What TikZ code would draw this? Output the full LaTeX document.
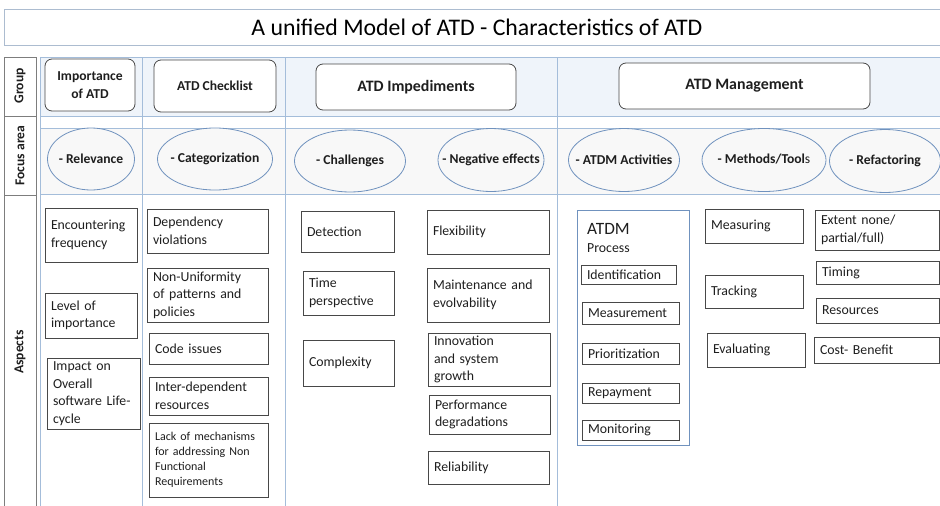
\documentclass[tikz,border=0pt]{standalone}
\usepackage{fontspec}
\setmainfont{Carlito}
\usetikzlibrary{shapes.geometric}
\definecolor{gridblue}{RGB}{164,189,218}
\definecolor{bandblue}{RGB}{239,244,250}
\definecolor{bandgray}{RGB}{248,248,248}
\definecolor{ellblue}{RGB}{112,146,190}
\definecolor{boxgray}{RGB}{72,72,72}
\definecolor{lblgray}{RGB}{125,125,125}
\definecolor{titlegray}{RGB}{172,188,208}
\definecolor{inkgray}{RGB}{30,30,30}

\begin{document}
\begin{tikzpicture}[x=1pt,y=-1pt,
		every node/.style={font=\fontsize{13.8}{17.6}\selectfont, text=inkgray},
		grp/.style={draw=boxgray, line width=.8pt, rounded corners=7pt, fill=white, align=center, font=\fontsize{13.6}{17.6}\selectfont\bfseries},
		focus/.style={ellipse, draw=ellblue, line width=.8pt, fill=bandgray, inner sep=0pt, font=\fontsize{13.6}{17.6}\selectfont\bfseries},
		asp/.style={draw=boxgray, line width=.8pt, align=left, inner xsep=6pt, inner ysep=1pt},
		lbl/.style={rotate=90, font=\fontsize{13.6}{17.6}\selectfont\bfseries}]
	\useasboundingbox (0,0) rectangle (940,506);
	\fill[bandblue] (40,57) rectangle (945,116);
	\fill[bandgray] (40,128) rectangle (945,194);
	\foreach \y in {57,116,128,194} \draw[gridblue, line width=.9pt] (40,\y) -- (945,\y);
	\foreach \x in {40,142,285,557} \draw[gridblue, line width=.9pt] (\x,57) -- (\x,512);
	\draw[lblgray, line width=.8pt] (4,57) rectangle (36,116);
	\draw[lblgray, line width=.8pt] (4,116) rectangle (36,195);
	\draw[lblgray, line width=.8pt] (4,195) rectangle (36,512);
	\node[lbl] (grouplbl) at (20,86) {Group};
	\node[lbl] (focuslbl) at (20,155.5) {Focus area};
	\node[lbl] (aspectlbl) at (20,352) {Aspects};
	\node[draw=titlegray, line width=.8pt, anchor=north west, minimum width=945pt, minimum height=36pt, font=\fontsize{23.8}{26}\selectfont, text=black] (title) at (4,9) {A unified Model of ATD - Characteristics of ATD};

	\node[grp, minimum width=90pt, minimum height=52pt] (importance) at (90,85) {Importance\\of ATD};
	\node[grp, minimum width=122pt, minimum height=52pt] (checklist) at (215,86) {ATD Checklist};
	\node[grp, minimum width=200pt, minimum height=46pt, font=\fontsize{15.9}{19}\selectfont\bfseries] (impediments) at (416,87) {ATD Impediments};
	\node[grp, minimum width=251pt, minimum height=46pt, font=\fontsize{15.9}{19}\selectfont\bfseries] (management) at (744.5,86) {ATD Management};

	\node[focus, minimum width=87pt, minimum height=62pt] (relevance) at (91,159) {\makebox[0pt]{- Relevance}};
	\node[focus, minimum width=115pt, minimum height=62pt] (categorization) at (215,159) {\makebox[0pt]{- Categorization}};
	\node[focus, minimum width=111pt, minimum height=62pt] (challenges) at (350,161) {\makebox[0pt]{- Challenges}};
	\node[focus, minimum width=106pt, minimum height=63pt] (negeffects) at (491,160) {\makebox[0pt]{\raisebox{3pt}{- Negative effects}}};
	\node[focus, minimum width=111pt, minimum height=63pt] (activities) at (624,160) {\makebox[0pt]{- ATDM Activities}};
	\node[focus, minimum width=124pt, minimum height=63pt] (methods) at (764,160) {\makebox[0pt]{\raisebox{2pt}{- Methods/Tool\mdseries s}}};
	\node[focus, minimum width=111pt, minimum height=63pt] (refactoring) at (885,161) {\makebox[0pt]{\raisebox{2pt}{- Refactoring}}};

	\node[asp, text width=80pt, minimum height=54pt] (encounter) at (91,235) {Encountering\\frequency\\[4pt]};
	\node[asp, text width=80pt, minimum height=45pt] (level) at (91,315.5) {Level of\\importance};
	\node[asp, text width=81pt, minimum height=71pt] (impact) at (93.5,393.5) {Impact on\\Overall\\software Life-\\cycle};

	\node[asp, text width=109pt, minimum height=44pt] (dependency) at (207.5,231) {Dependency\\violations};
	\node[asp, text width=109pt, minimum height=54pt] (nonuniform) at (207.5,295) {Non-Uniformity\\of patterns and\\policies};
	\node[asp, text width=107pt, minimum height=31pt] (codeissues) at (208.5,348.5) {Code issues};
	\node[asp, text width=107pt, minimum height=38pt] (interdep) at (208.5,396) {Inter-dependent\\resources};
	\node[asp, text width=107pt, minimum height=74pt, font=\fontsize{12}{15}\selectfont] (lackmech) at (208.5,460) {Lack of mechanisms\\for addressing Non\\Functional\\Requirements};

	\node[asp, text width=81pt, minimum height=41pt] (detection) at (347.5,231.5) {Detection};
	\node[asp, text width=79pt, minimum height=44pt] (timepersp) at (348.5,293) {Time\\perspective};
	\node[asp, text width=79pt, minimum height=46pt] (complexity) at (348.5,363) {Complexity};

	\node[asp, text width=110pt, minimum height=44pt] (flexibility) at (488,232) {Flexibility};
	\node[asp, text width=110pt, minimum height=54pt] (maintenance) at (488,295) {Maintenance and\\evolvability};
	\node[asp, text width=110pt, minimum height=53pt] (innovation) at (489,359.5) {Innovation\\and system\\growth};
	\node[asp, text width=109pt, minimum height=39pt] (performance) at (489.5,414.5) {Performance\\degradations};
	\node[asp, text width=109pt, minimum height=33pt] (reliability) at (488.5,467.5) {Reliability};

	\draw[ellblue, line width=.8pt] (577,210) rectangle (689,445);
	\node[anchor=west, inner sep=0pt, font=\fontsize{17.3}{20}\selectfont] (atdm) at (587,229) {ATDM};
	\node[anchor=west, inner sep=0pt] (process) at (587,248) {Process};
	\node[asp, text width=83pt, minimum height=19pt] (identification) at (628.5,274.5) {Identification};
	\node[asp, text width=85pt, minimum height=22pt] (measurement) at (630.5,313) {Measurement};
	\node[asp, text width=85pt, minimum height=21pt] (prioritization) at (630.5,353.5) {Prioritization};
	\node[asp, text width=85pt, minimum height=20pt] (repayment) at (630.5,393) {Repayment};
	\node[asp, text width=85pt, minimum height=20pt] (monitoring) at (630.5,430) {Monitoring};

	\node[asp, text width=86pt, minimum height=34pt] (measuring) at (754,226) {Measuring};
	\node[asp, text width=86pt, minimum height=33pt] (tracking) at (754,291.5) {Tracking};
	\node[asp, text width=86pt, minimum height=34pt] (evaluating) at (756,350) {Evaluating};

	\node[asp, text width=112pt, minimum height=40pt] (extent) at (877,230) {Extent none/\\partial/full)};
	\node[asp, text width=111pt, minimum height=23pt] (timing) at (877.5,272.5) {Timing};
	\node[asp, text width=111pt, minimum height=25pt] (resources) at (877.5,310.5) {Resources};
	\node[asp, text width=113pt, minimum height=26pt] (costbenefit) at (876.5,350) {Cost- Benefit};
\end{tikzpicture}
\end{document}
